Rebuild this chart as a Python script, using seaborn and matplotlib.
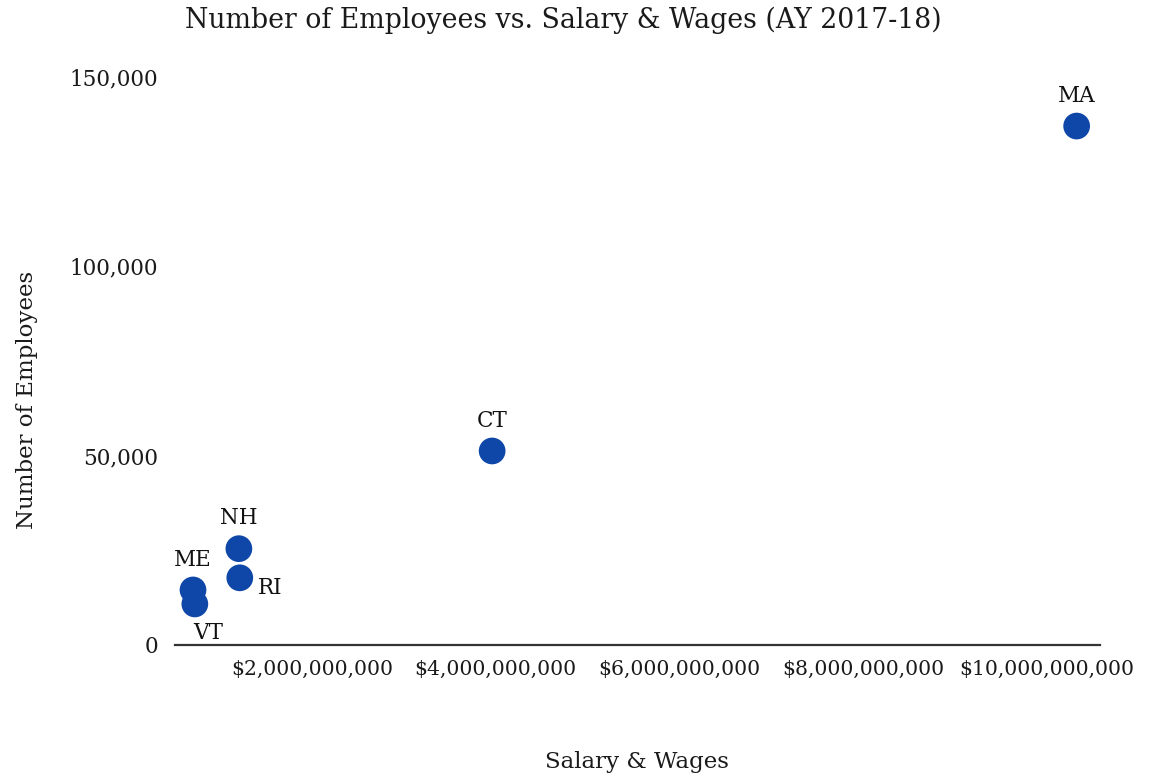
import matplotlib
matplotlib.use("Agg")
import matplotlib.pyplot as plt
import matplotlib.ticker as mticker
import seaborn as sns
import pandas as pd

# AY 2017-18 figures per state
states = ["MA", "CT", "NH", "RI", "ME", "VT"]
salary_wages = [10.33e9, 3.96e9, 1.20e9, 1.21e9, 0.70e9, 0.72e9]
employees = [137000, 51200, 25400, 17700, 14500, 10800]
label_pos = ["above", "above", "above", "right", "above", "below"]

x_ticks = [2e9, 4e9, 6e9, 8e9, 10e9]
y_ticks = [0, 50000, 100000, 150000]

df = pd.DataFrame({"state": states, "salary": salary_wages, "employees": employees})

sns.set_style("white")
plt.rcParams["font.family"] = ["DejaVu Serif", "Liberation Serif"]

fig = plt.figure(figsize=(11.49, 7.76), dpi=100)
ax = fig.add_axes([0.152, 0.169, 0.805, 0.732])

sns.scatterplot(data=df, x="salary", y="employees", ax=ax, s=370,
                color="#0f47a8", edgecolor="none", zorder=3, clip_on=False)

for st, xv, yv, pos in zip(states, salary_wages, employees, label_pos):
    if pos == "above":
        ax.annotate(st, (xv, yv), xytext=(0, 14), textcoords="offset points",
                    ha="center", va="bottom", fontsize=15.5, color="#111111")
    elif pos == "below":
        ax.annotate(st, (xv, yv), xytext=(10, -13), textcoords="offset points",
                    ha="center", va="top", fontsize=15.5, color="#111111")
    else:
        ax.annotate(st, (xv, yv), xytext=(13, -7), textcoords="offset points",
                    ha="left", va="center", fontsize=15.5, color="#111111")

ax.set_xlim(0.5e9, 10.58e9)
ax.set_ylim(0, 150000)
ax.set_xticks(x_ticks)
ax.set_yticks(y_ticks)
ax.xaxis.set_major_formatter(mticker.FuncFormatter(lambda v, p: f"${v:,.0f}"))
ax.yaxis.set_major_formatter(mticker.FuncFormatter(lambda v, p: f"{v:,.0f}"))
ax.tick_params(axis="both", length=0, colors="#1a1a1a")
ax.tick_params(axis="x", pad=11, labelsize=14.7)
ax.tick_params(axis="y", pad=12, labelsize=15.5)

for side in ["top", "right", "left"]:
    ax.spines[side].set_visible(False)
ax.spines["bottom"].set_color("#333333")
ax.spines["bottom"].set_linewidth(1.6)

ax.set_xlabel("Salary & Wages", fontsize=16.5, labelpad=52, color="#1a1a1a")
ax.set_ylabel("")
fig.text(27 / 1149, 1 - 400 / 776, "Number of Employees", rotation=90,
         ha="center", va="center", fontsize=16.5, color="#1a1a1a")
fig.text(0.49, 0.974, "Number of Employees vs. Salary & Wages (AY 2017-18)",
         ha="center", va="center", fontsize=19.3, color="#1a1a1a")

fig.savefig("out.png", dpi=100, facecolor="white")
